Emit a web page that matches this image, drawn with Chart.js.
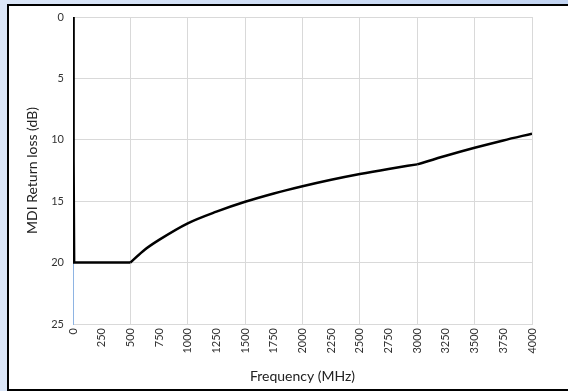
<!DOCTYPE html>
<html>
<head>
<meta charset="utf-8">
<script src="https://cdn.jsdelivr.net/npm/chart.js@4"></script>
<style>
    html, body { margin: 0; padding: 0; }
    body { width: 568px; height: 391px; overflow: hidden; position: relative;
           background: linear-gradient(90deg, #dbe6f8, #c2d4f2); }
    #frame { position: absolute; left: 7px; top: 4px; width: 600px; height: 383px;
             background: #fff; border: 2px solid #000; }
    #wrap { position: absolute; left: 0; top: 0; width: 568px; height: 391px; }
</style>
</head>
<body>
<div id="frame"></div>
<div id="wrap"><canvas id="rl-chart"></canvas></div>
<script>
// frequency points (MHz) and return loss limit (dB)
var lowFreqMHz = [1, 5, 10, 500];
var lowLossDb = [0, 11.6, 20, 20];
var midFreqMHz = [500, 625, 750, 1000, 1250, 1500, 1750, 2000, 2250, 2500, 2750, 3000];
var midLossDb = [20, 18.95, 18.15, 16.8, 15.85, 15.05, 14.37, 13.78, 13.25, 12.78, 12.37, 12.0];
var highFreqMHz = [3000, 3250, 3500, 3750, 4000];
var highLossDb = [12.0, 11.3, 10.65, 10.05, 9.5];

var xTicks = [0, 250, 500, 750, 1000, 1250, 1500, 1750, 2000, 2250, 2500, 2750, 3000, 3250, 3500, 3750, 4000];
var yTicks = [0, 5, 10, 15, 20, 25];

function toPoints(xs, ys) {
    return xs.map(function (f, i) { return { x: f, y: ys[i] }; });
}

function lineSet(xs, ys) {
    return {
        data: toPoints(xs, ys),
        borderColor: '#000',
        borderWidth: 2.5,
        pointRadius: 0,
        fill: false,
        cubicInterpolationMode: 'monotone'
    };
}

Chart.defaults.font.family = "Lato, 'Open Sans', sans-serif";
Chart.defaults.color = '#333';

var myChart = new Chart(document.getElementById("rl-chart"), {
    type: 'line',
    data: {
        datasets: [
            Object.assign(lineSet(lowFreqMHz, lowLossDb), { cubicInterpolationMode: 'default', tension: 0 }),
            lineSet(midFreqMHz, midLossDb),
            lineSet(highFreqMHz, highLossDb)
        ]
    },
    options: {
        responsive: true,
        maintainAspectRatio: false,
        animation: false,
        layout: { padding: { left: 0, top: 17, right: 36, bottom: 0 } },
        plugins: { legend: { display: false }, tooltip: { enabled: false } },
        scales: {
            x: {
                type: 'linear',
                min: 0,
                max: 4000,
                afterBuildTicks: function (scale) {
                    scale.ticks = xTicks.map(function (v) { return { value: v }; });
                },
                ticks: { minRotation: 90, maxRotation: 90, autoSkip: false, padding: 4,
                         font: { size: 11 }, color: '#333',
                         callback: function (v) { return String(v); } },
                grid: {
                    color: function (ctx) {
                        return ctx.tick && ctx.tick.value % 500 === 0 ? '#d9d9d9' : 'rgba(0,0,0,0)';
                    },
                    drawTicks: false
                },
                border: { color: '#d9d9d9' },
                title: { display: true, text: 'Frequency (MHz)', font: { size: 14 }, color: '#222',
                         padding: { top: 0, bottom: 6 } },
                afterFit: function (scale) { scale.height = 67; }
            },
            y: {
                reverse: true,
                min: 0,
                max: 25,
                afterBuildTicks: function (scale) {
                    scale.ticks = yTicks.map(function (v) { return { value: v }; });
                },
                ticks: { padding: 9, font: { size: 11 }, color: '#333',
                         callback: function (v) { return String(v); } },
                grid: { color: '#d9d9d9', drawTicks: false },
                border: { color: '#8eb4e3' },
                title: { display: true, text: 'MDI Return loss (dB)', font: { size: 14 }, color: '#222',
                         padding: { top: 24, bottom: 0 } },
                afterFit: function (scale) { scale.width = 73; }
            }
        }
    }
});
</script>
</body>
</html>
